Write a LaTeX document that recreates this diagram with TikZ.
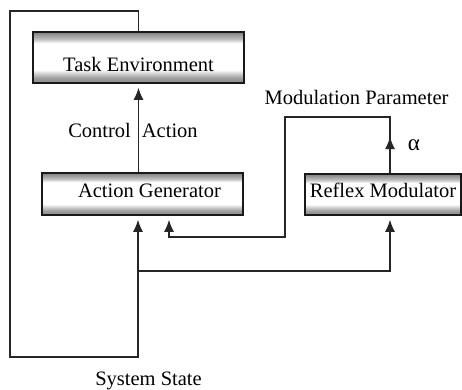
\documentclass[tikz,border=0pt]{standalone}
\usepackage{fontspec}
\setmainfont{Liberation Serif}
\usetikzlibrary{arrows.meta}
\pgfdeclareverticalshading{boxshade}{100bp}{color(0bp)=(black!45); color(25bp)=(black!45); color(30bp)=(black!38); color(34bp)=(black!20); color(38bp)=(white); color(64bp)=(white); color(68bp)=(black!25); color(72bp)=(black!40); color(75bp)=(black!50); color(100bp)=(black!50)}
\begin{document}
\begin{tikzpicture}[x=1pt,y=-1pt, font=\fontsize{20.5}{24}\selectfont,
 box/.style={draw=black!90, line width=1.6pt, shading=boxshade, inner sep=0pt},
 wire/.style={draw=black!85, line width=1.2pt},
 tip/.style={-{Latex[length=12pt,width=10pt]}},
 arr/.style={wire, tip, shorten >=4pt},
 lbl/.style={inner sep=0pt, anchor=base}]
\useasboundingbox (0,0) rectangle (462,389);
\node[box, minimum width=211pt, minimum height=51pt, text height=27pt, text depth=0pt] (te) at (138.5,57.5) {Task Environment};
\node[box, minimum width=201pt, minimum height=42pt, text height=14pt, text depth=8pt] (ag) at (142.5,194) {\hspace*{14pt}Action Generator};
\node[box, minimum width=156pt, minimum height=41pt, text height=14pt, text depth=8pt] (rm) at (383,194.5) {Reflex Modulator};
\coordinate (tl) at (10,11);
\coordinate (bl) at (10,357);
\coordinate (split) at (138,271);
\coordinate (mp) at (390,117);
\coordinate (mpl) at (285,117);
\coordinate (fb) at (285,237);
\coordinate (agin) at (169,237);
\coordinate (amid) at (390,137);
% system state loop
\draw[arr] (te.north) -- (te.north |- tl) -- (tl) -- (bl) -- (bl -| split) -- (split) -- (split |- ag.south);
\draw[arr] (split) -- (split -| mp) -- (rm.south -| mp);
% control action
\draw[arr] (ag.north -| te.south) -- (te.south);
% modulation parameter
\draw[arr] (rm.north -| mp) -- (mp) -- (mpl) -- (fb) -- (agin) -- (ag.south -| agin);
\draw[wire, tip] (rm.north -| mp) -- (amid);
% labels
\node[lbl] (ca) at (133,137) {Control\hspace{11pt}Action};
\node[lbl] (mpt) at (356.5,104) {Modulation Parameter};
\node[lbl] (al) at (414,150) {\fontsize{23}{24}\selectfont α};
\node[lbl] (ss) at (148.5,385) {System State};
\end{tikzpicture}
\end{document}
